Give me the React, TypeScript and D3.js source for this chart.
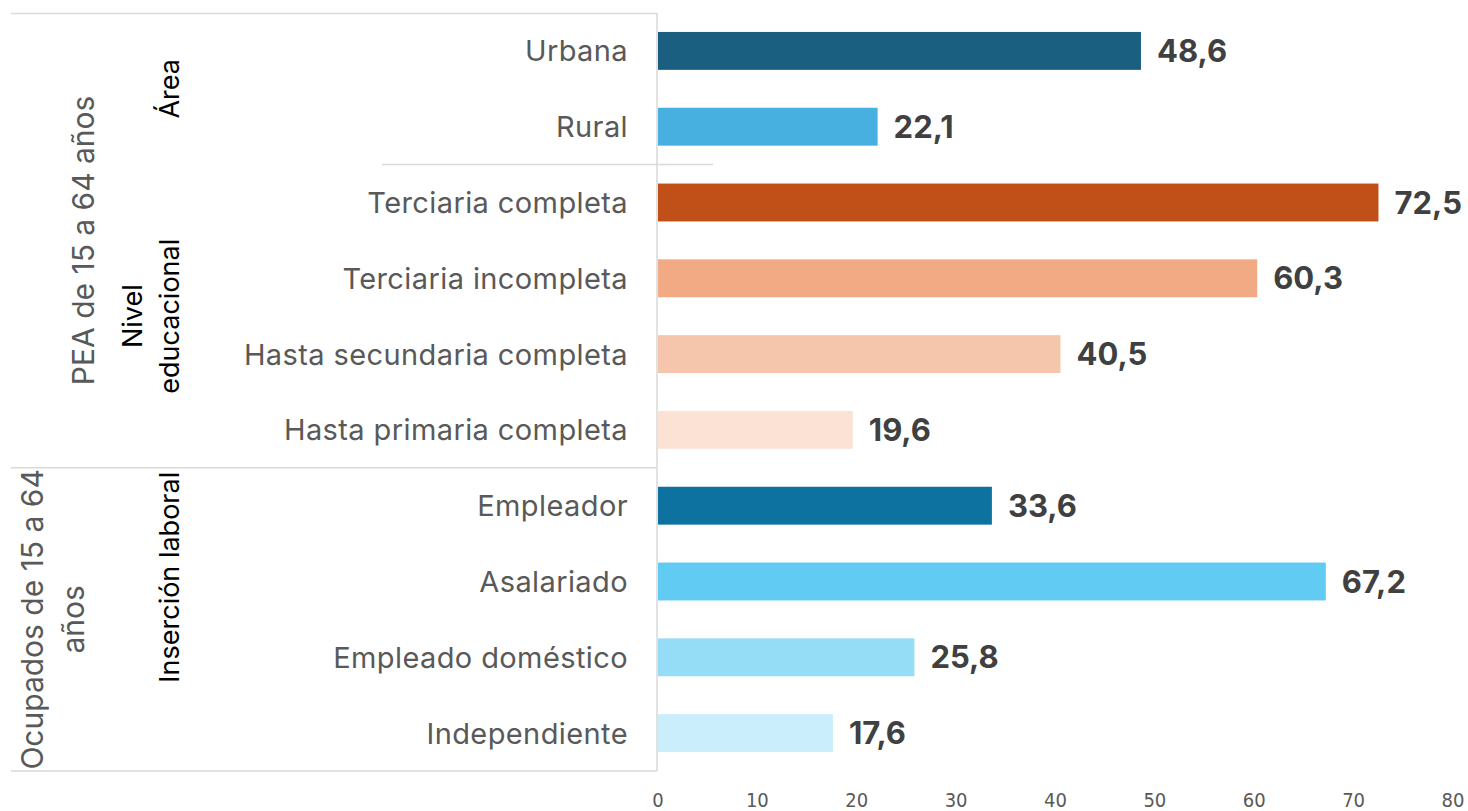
import React from 'react'
import * as d3 from 'd3'

const categories = [
  'Urbana',
  'Rural',
  'Terciaria completa',
  'Terciaria incompleta',
  'Hasta secundaria completa',
  'Hasta primaria completa',
  'Empleador',
  'Asalariado',
  'Empleado doméstico',
  'Independiente'
]
const values = [48.6, 22.1, 72.5, 60.3, 40.5, 19.6, 33.6, 67.2, 25.8, 17.6]
const barColors = [
  '#1a5e80',
  '#47b0e0',
  '#c05017',
  '#f2aa85',
  '#f6c6ac',
  '#fbe2d5',
  '#0e72a0',
  '#61cbf4',
  '#95dcf7',
  '#caeefb'
]
const xTicks = [0, 10, 20, 30, 40, 50, 60, 70, 80]

// sub groups: label lines, first and last category index
const subGroups = [
  { lines: ['Área'], from: 0, to: 1, anchor: 'middle' },
  { lines: ['Nivel', 'educacional'], from: 2, to: 5, anchor: 'middle' },
  { lines: ['Inserción laboral'], from: 6, to: 9, anchor: 'top' }
]
const mainGroups = [
  { lines: ['PEA de 15 a 64 años'], from: 0, to: 5 },
  { lines: ['Ocupados de 15 a 64', 'años'], from: 6, to: 9 }
]

const W = 1468
const H = 811
const FONT = 'Inter, Liberation Sans, Arial, sans-serif'

const App: React.FC = () => {
  const x = d3.scaleLinear().domain([0, 80]).range([658, 1453])
  const y = d3.scaleBand().domain(categories).range([13, 771]).paddingInner(0.5).paddingOuter(0.25)
  const step = y.step()
  const rowTop = (i: number) => 13 + i * step
  const grid = '#d9d9d9'

  return (
    <div style={{ position: 'fixed', left: 0, top: 0 }}>
      <svg width={W} height={H} style={{ display: 'block', fontFamily: FONT }}>
        <rect width={W} height={H} fill="#fff" />

        {/* table lines */}
        <line x1={11} x2={657} y1={13.5} y2={13.5} stroke={grid} strokeWidth={1.5} />
        <line x1={382} x2={713} y1={rowTop(2)} y2={rowTop(2)} stroke={grid} strokeWidth={1.5} />
        <line x1={11} x2={657} y1={rowTop(6)} y2={rowTop(6)} stroke={grid} strokeWidth={1.5} />
        <line x1={11} x2={657} y1={771} y2={771} stroke={grid} strokeWidth={1.5} />
        <line x1={657} x2={657} y1={13} y2={771} stroke={grid} strokeWidth={1.5} />

        {/* bars */}
        {categories.map((c, i) => (
          <g key={c}>
            <rect x={x(0)} y={y(c)} width={x(values[i]) - x(0)} height={y.bandwidth()} fill={barColors[i]} />
            <text
              x={628}
              y={y(c)! + y.bandwidth() / 2}
              dy="0.36em"
              textAnchor="end"
              fontSize={29}
              letterSpacing={0.4}
              fill="#595959"
            >
              {c}
            </text>
            <text
              x={x(values[i]) + 16}
              y={y(c)! + y.bandwidth() / 2}
              dy="0.36em"
              fontSize={31}
              fontWeight="bold"
              fill="#404040"
            >
              {values[i].toFixed(1).replace('.', ',')}
            </text>
          </g>
        ))}

        {/* sub group labels */}
        {subGroups.map((g) => {
          const top = rowTop(g.from)
          const bottom = rowTop(g.to + 1)
          const cy = g.anchor === 'top' ? top + 4 : (top + bottom) / 2
          const lh = 37
          const cx = 170 - (g.lines.length - 1) * lh
          return (
            <text
              key={g.lines.join()}
              transform={`translate(${cx},${cy}) rotate(-90)`}
              textAnchor={g.anchor === 'top' ? 'end' : 'middle'}
              fontSize={27}
              fill="#000"
            >
              {g.lines.map((l, k) => (
                <tspan key={l} x={0} y={k * lh} dy="0.35em">
                  {l}
                </tspan>
              ))}
            </text>
          )
        })}

        {/* main group labels */}
        {mainGroups.map((g) => {
          const top = rowTop(g.from)
          const bottom = rowTop(g.to + 1)
          const cy = (top + bottom) / 2
          const lh = 41
          const cx = g.lines.length > 1 ? 32 : 83
          return (
            <text
              key={g.lines.join()}
              transform={`translate(${cx},${cy}) rotate(-90)`}
              textAnchor="middle"
              fontSize={30}
              fill="#595959"
            >
              {g.lines.map((l, k) => (
                <tspan key={l} x={0} y={k * lh} dy="0.35em">
                  {l}
                </tspan>
              ))}
            </text>
          )
        })}

        {/* x axis tick labels */}
        {xTicks.map((t) => (
          <text
            key={t}
            x={x(t)}
            y={800}
            dy="0.35em"
            textAnchor="middle"
            fontSize={20}
            fill="#595959"
            style={{ fontFamily: 'Liberation Sans Narrow, DejaVu Sans Condensed, sans-serif' }}
          >
            {t}
          </text>
        ))}
      </svg>
    </div>
  )
}

export default App
